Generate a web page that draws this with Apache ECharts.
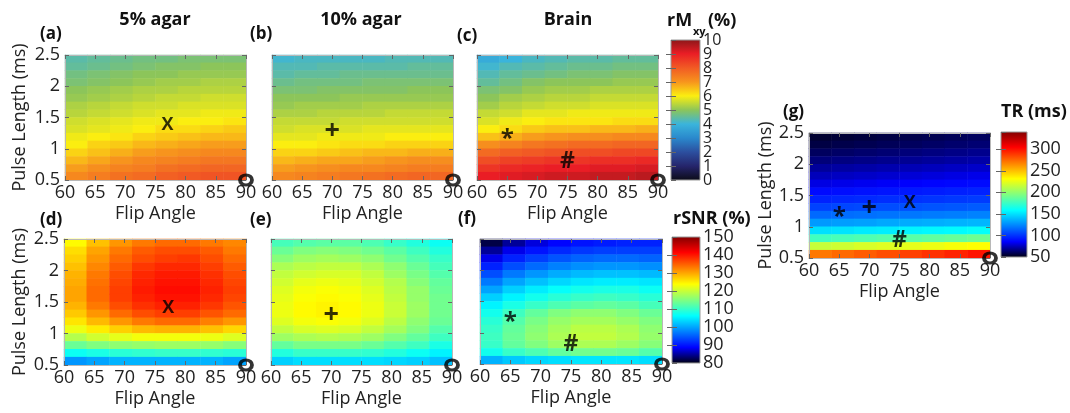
<!DOCTYPE html>
<html>
<head>
<meta charset="utf-8">
<title>rMxy, rSNR and TR maps</title>
<script src="https://cdn.jsdelivr.net/npm/echarts@6/dist/echarts.min.js"></script>
<style>
  html, body { margin: 0; padding: 0; background: #fff; }
  #chart { width: 1070px; height: 413px; }
</style>
</head>
<body>
<div id="chart"></div>
<script>
// cell centres: 8 flip angle columns (60..90), 16 pulse length rows (0.5..2.5, bottom to top)
var flipCols = ['61.9', '65.6', '69.4', '73.1', '76.9', '80.6', '84.4', '88.1'];
var pulseRows = ['0.56', '0.69', '0.81', '0.94', '1.06', '1.19', '1.31', '1.44',
                 '1.56', '1.69', '1.81', '1.94', '2.06', '2.19', '2.31', '2.44'];

// every map below is written top row first (pulse length 2.44 ms) down to 0.56 ms
var rmxyAgar5 = [
  [4.4, 4.5, 4.6, 4.7, 4.7, 4.8, 4.8, 4.8],
  [4.5, 4.6, 4.7, 4.8, 4.9, 4.9, 5.0, 5.0],
  [4.7, 4.8, 4.9, 5.0, 5.0, 5.1, 5.1, 5.1],
  [4.8, 4.9, 5.0, 5.1, 5.2, 5.2, 5.3, 5.3],
  [5.0, 5.1, 5.2, 5.3, 5.3, 5.4, 5.4, 5.4],
  [5.1, 5.2, 5.3, 5.4, 5.5, 5.5, 5.6, 5.6],
  [5.3, 5.4, 5.5, 5.6, 5.6, 5.7, 5.7, 5.7],
  [5.4, 5.5, 5.6, 5.7, 5.8, 5.8, 5.9, 5.9],
  [5.6, 5.7, 5.8, 5.9, 5.9, 6.0, 6.0, 6.1],
  [5.7, 5.8, 5.9, 6.0, 6.2, 6.2, 6.3, 6.4],
  [5.9, 6.0, 6.1, 6.3, 6.4, 6.5, 6.6, 6.6],
  [6.0, 6.3, 6.4, 6.6, 6.7, 6.8, 6.9, 6.9],
  [6.3, 6.5, 6.7, 6.9, 7.0, 7.1, 7.2, 7.2],
  [6.6, 6.8, 7.0, 7.2, 7.3, 7.4, 7.5, 7.5],
  [6.9, 7.1, 7.3, 7.4, 7.6, 7.7, 7.8, 7.8],
  [7.2, 7.4, 7.6, 7.7, 7.9, 8.0, 8.1, 8.1]
];
var rmxyAgar10 = [
  [4.1, 4.2, 4.2, 4.2, 4.2, 4.3, 4.3, 4.3],
  [4.3, 4.3, 4.4, 4.4, 4.4, 4.4, 4.5, 4.5],
  [4.4, 4.5, 4.5, 4.6, 4.6, 4.6, 4.6, 4.6],
  [4.6, 4.7, 4.7, 4.7, 4.8, 4.8, 4.8, 4.8],
  [4.8, 4.8, 4.9, 4.9, 4.9, 4.9, 5.0, 5.0],
  [5.0, 5.0, 5.0, 5.1, 5.1, 5.1, 5.1, 5.1],
  [5.1, 5.2, 5.2, 5.2, 5.3, 5.3, 5.3, 5.3],
  [5.3, 5.3, 5.4, 5.4, 5.4, 5.5, 5.5, 5.5],
  [5.5, 5.5, 5.5, 5.6, 5.6, 5.6, 5.6, 5.6],
  [5.6, 5.7, 5.7, 5.7, 5.8, 5.8, 5.8, 5.8],
  [5.8, 5.8, 5.9, 5.9, 5.9, 6.0, 6.0, 6.0],
  [6.0, 6.0, 6.1, 6.2, 6.2, 6.3, 6.3, 6.3],
  [6.3, 6.3, 6.4, 6.5, 6.6, 6.6, 6.7, 6.7],
  [6.6, 6.7, 6.8, 6.8, 6.9, 7.0, 7.1, 7.1],
  [6.9, 7.0, 7.1, 7.2, 7.2, 7.3, 7.4, 7.4],
  [7.2, 7.3, 7.4, 7.5, 7.6, 7.7, 7.8, 7.8]
];
var rmxyBrain = [
  [3.8, 4.0, 4.2, 4.3, 4.4, 4.4, 4.5, 4.5],
  [4.1, 4.3, 4.4, 4.5, 4.6, 4.6, 4.7, 4.7],
  [4.3, 4.5, 4.6, 4.7, 4.8, 4.8, 4.9, 4.9],
  [4.5, 4.7, 4.9, 5.0, 5.0, 5.0, 5.1, 5.1],
  [4.8, 4.9, 5.1, 5.2, 5.2, 5.3, 5.3, 5.3],
  [5.0, 5.2, 5.3, 5.4, 5.4, 5.5, 5.5, 5.5],
  [5.2, 5.4, 5.5, 5.6, 5.6, 5.7, 5.7, 5.7],
  [5.5, 5.6, 5.8, 5.8, 5.9, 5.9, 5.9, 5.9],
  [5.7, 5.9, 6.0, 6.1, 6.1, 6.1, 6.2, 6.2],
  [6.0, 6.2, 6.4, 6.5, 6.5, 6.6, 6.6, 6.7],
  [6.5, 6.7, 6.9, 7.0, 7.1, 7.1, 7.2, 7.2],
  [7.1, 7.3, 7.5, 7.6, 7.7, 7.7, 7.8, 7.8],
  [7.7, 7.9, 8.0, 8.1, 8.2, 8.2, 8.3, 8.3],
  [8.2, 8.4, 8.5, 8.6, 8.6, 8.7, 8.7, 8.8],
  [8.6, 8.8, 8.9, 9.0, 9.0, 9.1, 9.1, 9.2],
  [9.0, 9.1, 9.2, 9.3, 9.3, 9.4, 9.4, 9.5]
];
var rsnrAgar5 = [
  [124, 128, 131, 133, 134, 134, 133, 132],
  [126, 130, 133, 135, 136, 136, 135, 133],
  [127, 131, 134, 136, 137, 137.5, 136, 134],
  [128, 132, 135, 137.5, 138.5, 138.5, 137, 135],
  [129, 133, 136, 138.5, 139.5, 139.5, 138, 136],
  [129.5, 133.5, 136.5, 139, 140, 140, 138.5, 136.5],
  [130, 134, 137, 139.5, 140.5, 140.5, 139, 137],
  [130, 134, 137, 139, 140, 140, 138.5, 136.5],
  [129, 133, 136, 138, 139, 139, 137.5, 135.5],
  [127.5, 131, 134, 136, 137, 137, 135.5, 134],
  [125.5, 128.5, 131, 133, 134, 134, 132.5, 131],
  [122.5, 125, 127, 128.5, 129, 129, 128, 126.5],
  [118.5, 120.5, 122, 123, 123, 123, 122.5, 121.5],
  [113.5, 115, 116, 116.5, 117, 117, 116.5, 115.5],
  [107, 108, 109, 109.5, 110, 110, 109.5, 109],
  [99, 100, 101, 101, 101, 101, 101, 100]
];
var rsnrAgar10 = [
  [111, 112, 112.5, 112.5, 111.5, 110, 108.5, 107],
  [113.5, 115, 115.5, 115, 114, 112.5, 110.5, 108.5],
  [115.5, 117, 117.5, 117, 116, 114, 112, 110],
  [118, 119, 119.5, 119.5, 118, 116, 113.5, 111],
  [119.5, 120.5, 121, 121, 119.5, 117, 114.5, 112],
  [120.5, 122, 122.5, 122, 120.5, 118.5, 115.5, 113],
  [121.5, 123, 123.5, 123, 121.5, 119, 116.5, 113.5],
  [122, 123.5, 124, 123.5, 122, 119.5, 116.5, 114],
  [122.5, 124, 124.5, 124, 122.5, 120, 117, 114],
  [122.5, 124, 124.5, 124, 122.5, 120, 117, 114],
  [121.5, 123, 123.5, 123, 121.5, 119, 116, 113.5],
  [119.5, 121, 121.5, 121, 119.5, 117.5, 115, 112],
  [117, 118, 118.5, 118, 117, 115, 113, 110.5],
  [113, 114.5, 114.5, 114.5, 113.5, 112, 110.5, 108],
  [108.5, 110, 110, 110, 109.5, 108.5, 107, 105.5],
  [103, 104, 104, 104, 104, 103.5, 103, 102]
];
var rsnrBrain = [
  [82, 85, 87.5, 89, 90, 90.5, 91, 91],
  [85, 88, 90, 91.5, 92.5, 93, 93, 93],
  [88, 91, 93, 94.5, 95.5, 96, 96, 95.5],
  [91, 94, 96, 97.5, 98.5, 99, 99, 98.5],
  [94, 97, 99, 100.5, 101.5, 102, 102, 101.5],
  [97, 100, 102, 103.5, 104.5, 105, 105, 104.5],
  [100, 103, 105, 106.5, 107.5, 108, 108, 107],
  [103, 105.5, 107.5, 109, 110, 110.5, 110, 109],
  [105.5, 108, 110, 111.5, 112.5, 113, 112.5, 111],
  [107.5, 110.5, 113, 115, 116, 116, 115, 113.5],
  [109, 112, 114.5, 116.5, 117.5, 117.5, 116.5, 115],
  [110, 113, 115.5, 117.5, 119, 119, 118, 116],
  [110.5, 113.5, 116, 118, 119.5, 119.5, 118.5, 116.5],
  [110, 113, 115, 117, 118, 118, 117, 115.5],
  [107.5, 110, 111.5, 113, 114, 114, 113.5, 112],
  [101, 102.5, 103.5, 104, 104.5, 104.5, 104.5, 104]
];
var trMap = [
  [55, 56, 57, 58, 59, 60, 61, 62],
  [58, 59, 60, 61, 62, 63, 64, 65],
  [62, 63, 64, 65, 66, 67, 68, 69],
  [66, 67, 68, 69, 70, 71, 72, 73],
  [71, 72, 73, 74, 75, 76, 77, 78],
  [76, 77, 78, 79, 80, 81, 82, 83],
  [82, 83, 84, 85, 86, 87, 88, 89],
  [89, 90, 91, 92, 93, 94, 95, 96],
  [96, 97, 98, 99, 100, 101, 102, 103],
  [105, 106, 107, 108, 109, 110, 111, 112],
  [116, 117, 118, 119, 120, 121, 122, 123],
  [130, 131, 132, 134, 135, 136, 137, 138],
  [150, 151, 153, 154, 156, 157, 158, 160],
  [177, 179, 181, 183, 184, 186, 188, 190],
  [215, 217, 220, 222, 224, 226, 229, 231],
  [270, 274, 278, 282, 286, 290, 294, 298]
];

// optimum markers: [flip angle, pulse length, glyph]
var markersA = [[77, 1.38, 'X']];
var markersB = [[70, 1.28, '+']];
var markersC = [[65, 1.25, '*'], [75, 0.79, '#']];
var markersD = [[77.2, 1.4, 'X']];
var markersE = [[70, 1.29, '+']];
var markersF = [[65, 1.27, '*'], [75, 0.82, '#']];
var markersG = [[65, 1.25, '*'], [70, 1.3, '+'], [76.7, 1.39, 'X'], [75, 0.78, '#']];
var ringAt = [[90, 0.5]];

// colour scales
var rmxyColors = ['#0b0b16', '#25246a', '#2c4e9e', '#2a88cc', '#3ab4dc', '#8cc55a',
                  '#fbee10', '#f7941d', '#f15a24', '#ea1d25', '#8a1719'];
var jetColors = ['#00000f', '#0000ff', '#0080ff', '#00ffff', '#80ff80',
                 '#ffff00', '#ff8000', '#ff0000', '#800000'];

var FONT = "'Open Sans', sans-serif";
var INK = '#222';

var panels = [
  { box: [65, 55, 181, 125], rows: rmxyAgar5, marks: markersA, yLabels: true, gapY: 36 },
  { box: [272, 55, 181, 125], rows: rmxyAgar10, marks: markersB },
  { box: [477, 55, 181, 125], rows: rmxyBrain, marks: markersC },
  { box: [64, 239, 182, 126], rows: rsnrAgar5, marks: markersD, yLabels: true, gapY: 35 },
  { box: [271, 239, 181, 126], rows: rsnrAgar10, marks: markersE },
  { box: [480, 239, 182, 125], rows: rsnrBrain, marks: markersF },
  { box: [809, 133, 181, 125], rows: trMap, marks: markersG, yLabels: true, gapY: 34 }
];

var bars = [
  { box: [671, 40, 29, 140], min: 0, max: 10, step: 1, colors: rmxyColors, size: 16 },
  { box: [672, 237, 28, 126], min: 80, max: 150, step: 10, colors: jetColors, size: 18 },
  { box: [1001, 132, 26, 125], min: 50, max: 340, step: 50, colors: jetColors, size: 18 }
];

var glyphSize = { 'X': 18, '+': 27, '*': 24, '#': 23 };
var glyphShift = { 'X': [0, 0], '+': [0, 0], '*': [0, 6], '#': [0, 0] };

function cellsOf(rows) {
  var out = [];
  rows.forEach(function (row, r) {
    row.forEach(function (v, c) {
      out.push([c, rows.length - 1 - r, v]);
    });
  });
  return out;
}

function tickStyle(len) {
  return { show: true, inside: true, length: len, lineStyle: { color: '#666', width: 1 } };
}

var grids = [], xAxes = [], yAxes = [], series = [], scatterSeries = [];

panels.forEach(function (p, i) {
  grids.push({ left: p.box[0], top: p.box[1], width: p.box[2], height: p.box[3] });

  var xCat = xAxes.length;
  xAxes.push({ type: 'category', gridIndex: i, data: flipCols, show: false });
  var xVal = xAxes.length;
  xAxes.push({
    type: 'value', gridIndex: i, position: 'bottom', min: 60, max: 90, interval: 5, z: 5,
    axisLine: { show: true, lineStyle: { color: '#b8b8b8', width: 1 } },
    axisTick: tickStyle(4), splitLine: { show: false },
    axisLabel: { show: true, margin: 4, color: INK, fontSize: 18, fontFamily: FONT,
                 showMinLabel: true, showMaxLabel: true, hideOverlap: false },
    name: 'Flip Angle', nameLocation: 'middle', nameGap: 25,
    nameTextStyle: { color: INK, fontSize: 18, fontFamily: FONT }
  });
  xAxes.push({
    type: 'value', gridIndex: i, position: 'top', min: 60, max: 90, interval: 5, z: 5,
    axisLine: { show: true, lineStyle: { color: '#b8b8b8', width: 1 } },
    axisTick: tickStyle(4), splitLine: { show: false }, axisLabel: { show: false }
  });

  var yCat = yAxes.length;
  yAxes.push({ type: 'category', gridIndex: i, data: pulseRows, show: false });
  var yVal = yAxes.length;
  yAxes.push({
    type: 'value', gridIndex: i, position: 'left', min: 0.5, max: 2.5, interval: 0.5, z: 5,
    axisLine: { show: true, lineStyle: { color: '#b8b8b8', width: 1 } },
    axisTick: tickStyle(4), splitLine: { show: false },
    axisLabel: { show: !!p.yLabels, margin: 5, color: INK, fontSize: 18, fontFamily: FONT,
                 showMinLabel: true, showMaxLabel: true, hideOverlap: false },
    name: p.yLabels ? 'Pulse Length (ms)' : '', nameLocation: 'middle', nameGap: p.gapY || 30,
    nameTextStyle: { color: INK, fontSize: 18, fontFamily: FONT }
  });
  yAxes.push({
    type: 'value', gridIndex: i, position: 'right', min: 0.5, max: 2.5, interval: 0.5, z: 5,
    axisLine: { show: true, lineStyle: { color: '#b8b8b8', width: 1 } },
    axisTick: tickStyle(4), splitLine: { show: false }, axisLabel: { show: false }
  });

  series.push({
    type: 'heatmap', xAxisIndex: xCat, yAxisIndex: yCat,
    data: cellsOf(p.rows), emphasis: { disabled: true }, itemStyle: { borderWidth: 0 }
  });

  scatterSeries.push({
    type: 'scatter', xAxisIndex: xVal, yAxisIndex: yVal, clip: false, z: 6,
    symbolSize: 1, itemStyle: { color: 'rgba(0,0,0,0)' },
    data: p.marks.map(function (m) {
      return {
        value: m,
        label: { fontSize: glyphSize[m[2]], offset: glyphShift[m[2]] }
      };
    }),
    label: {
      show: true, position: 'inside', color: '#000', fontWeight: 'bold', fontFamily: FONT,
      formatter: function (d) { return d.value[2]; }
    }
  });
  scatterSeries.push({
    type: 'scatter', xAxisIndex: xVal, yAxisIndex: yVal, clip: false, z: 6,
    symbol: 'circle', symbolSize: [12, 10], data: ringAt,
    itemStyle: { color: 'rgba(0,0,0,0)', borderColor: '#000', borderWidth: 3.5 }
  });
});

bars.forEach(function (b) {
  var gi = grids.length;
  var stops = b.colors.map(function (c, k) {
    return { offset: k / (b.colors.length - 1), color: c };
  });
  var labelStyle = { margin: 3, color: INK, fontSize: b.size, fontFamily: FONT, hideOverlap: false };
  grids.push({
    left: b.box[0], top: b.box[1], width: b.box[2], height: b.box[3], show: true,
    backgroundColor: { type: 'linear', x: 0, y: 1, x2: 0, y2: 0, colorStops: stops },
    borderColor: '#9a9a9a', borderWidth: 1
  });
  xAxes.push({ type: 'value', gridIndex: gi, show: false, min: 0, max: 1 });
  // inner labels and ticks
  yAxes.push({
    type: 'value', gridIndex: gi, position: 'right', min: b.min, max: b.max, interval: b.step,
    axisLine: { show: false }, axisTick: tickStyle(5), splitLine: { show: false },
    axisLabel: Object.assign({ showMinLabel: false, showMaxLabel: false }, labelStyle)
  });
  // end labels drawn on their own so the crowded inner ones are kept
  yAxes.push({
    type: 'value', gridIndex: gi, position: 'right', min: b.min, max: b.max,
    interval: b.max - b.min,
    axisLine: { show: false }, axisTick: { show: false }, splitLine: { show: false },
    axisLabel: Object.assign({ showMinLabel: true, showMaxLabel: b.max % b.step === 0 }, labelStyle)
  });
  yAxes.push({
    type: 'value', gridIndex: gi, position: 'left', min: b.min, max: b.max, interval: b.step,
    axisLine: { show: false }, axisTick: tickStyle(5), splitLine: { show: false },
    axisLabel: { show: false }
  });
});

function label(text, x, y, size, align) {
  return {
    type: 'text', x: x, y: y, silent: true,
    style: {
      text: text, fill: '#111', font: 'bold ' + size + 'px ' + FONT,
      textAlign: align || 'left', textVerticalAlign: 'middle'
    }
  };
}

var option = {
  animation: false,
  backgroundColor: '#fff',
  grid: grids,
  xAxis: xAxes,
  yAxis: yAxes,
  visualMap: [
    { type: 'continuous', show: false, min: 0, max: 10, dimension: 2, seriesIndex: [0, 1, 2],
      inRange: { color: rmxyColors } },
    { type: 'continuous', show: false, min: 80, max: 150, dimension: 2, seriesIndex: [3, 4, 5],
      inRange: { color: jetColors } },
    { type: 'continuous', show: false, min: 50, max: 340, dimension: 2, seriesIndex: [6],
      inRange: { color: jetColors } }
  ],
  series: series.concat(scatterSeries),
  graphic: [
    label('5% agar', 155, 20, 18, 'center'),
    label('10% agar', 361, 20, 18, 'center'),
    label('Brain', 568, 20, 18, 'center'),
    label('(a)', 40, 34, 17), label('(b)', 250, 34, 17), label('(c)', 457, 36, 17),
    label('(d)', 40, 220, 17), label('(e)', 250, 220, 17), label('(f)', 458, 219, 17),
    label('(g)', 783, 112, 17),
    label('rM', 667, 21, 18), label('xy', 693, 32, 11), label('(%)', 708, 21, 18),
    label('rSNR (%)', 673, 219, 18),
    label('TR (ms)', 1001, 112, 18)
  ]
};

var chart = echarts.init(document.getElementById('chart'));
chart.setOption(option);
</script>
</body>
</html>
